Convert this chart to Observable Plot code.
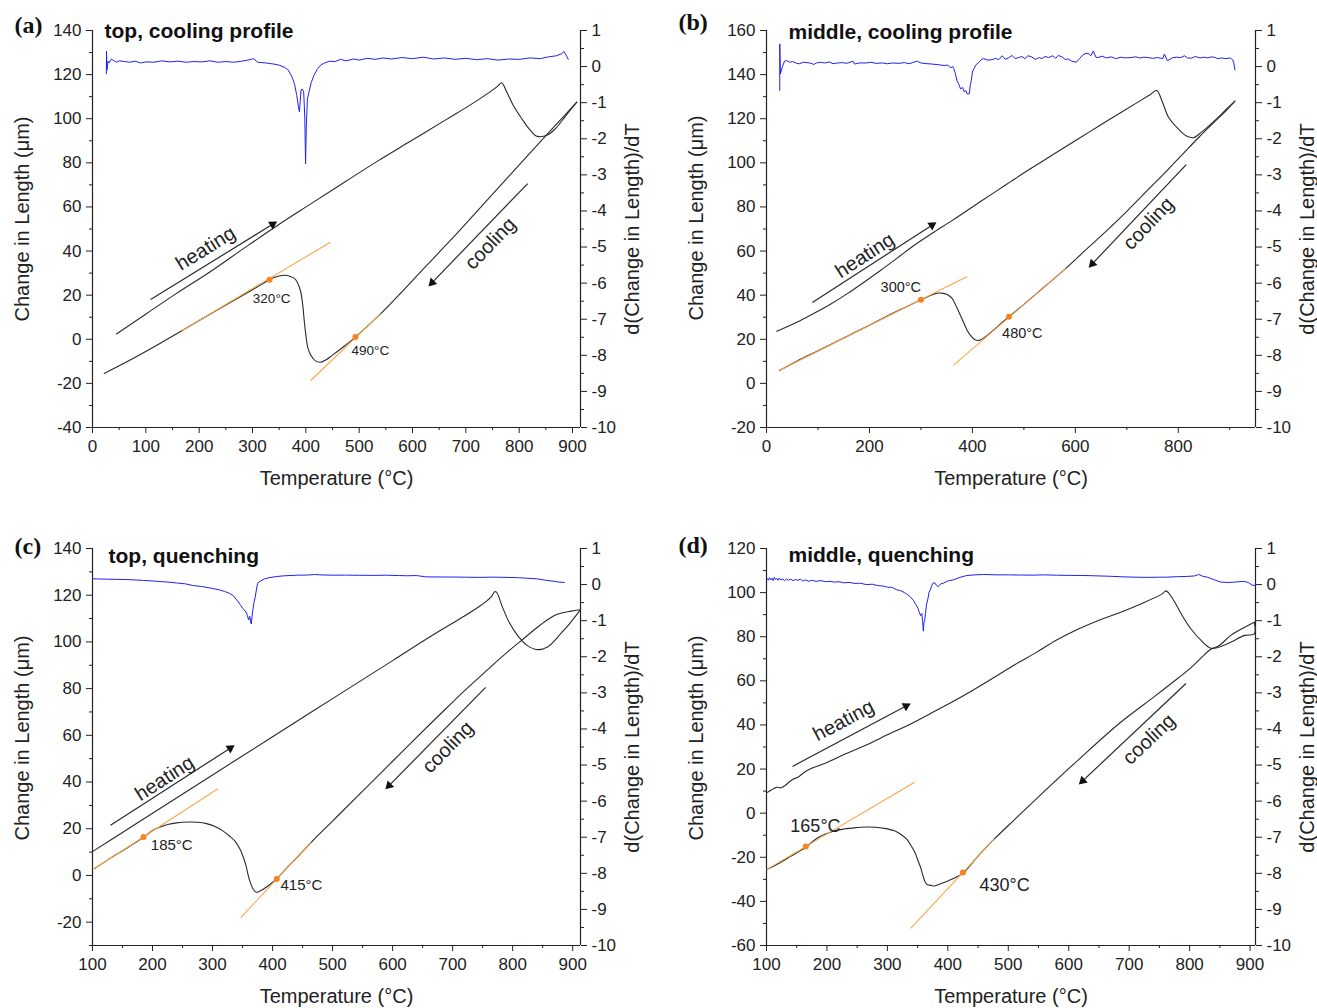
<!DOCTYPE html>
<html><head><meta charset="utf-8">
<script src="https://cdn.jsdelivr.net/npm/d3@7"></script>
<script src="https://cdn.jsdelivr.net/npm/@observablehq/plot@0.6"></script>
<style>
body{margin:0;background:#fff;}
#root{position:relative;width:1317px;height:1008px;background:#fff;overflow:hidden;}
#root > svg{position:absolute;}
</style></head><body><div id="root"></div>
<script>
// ---------- Panel (a) top, cooling profile ----------
const heatA = [[45,2.4],[101,11.6],[157,20.7],[220,30.5],[283,41.1],[346,51.5],[410,61.5],[473,71.3],[536,81],[599,90.2],[663,99.6],[710,106.5],[746,112.3],[760,114.8],[767,116.3],[777,112],[789,106],[805,100],[821,94.7],[834,92],[853,92.6],[868,95.5],[888,101.5],[908,107.5]];
const coolA = [[908,107.5],[870,97.5],[830,87],[780,73.7],[720,57.8],[671,44.8],[620,31.8],[580,21.5],[540,11.5],[515,5.8],[493,1.0],[470,-3.5],[450,-7.2],[438,-9.3],[427,-10.4],[418,-9.8],[410,-7.5],[404,-4],[400,2],[397,8.5],[394,16],[390,22],[384,25.9],[378,27.7],[371,28.5],[360,29],[350,28.7],[340,28],[332,27],[300,22.5],[250,15.5],[200,8.5],[168,4],[109,-4.3],[60,-10.8],[22,-15.5]];
const derivA = [[26,-0.2],[26.3,0.43],[27,-0.1],[29,0.15],[31,0.1],[35,0.2],[40,0.17],[45,0.12],[50,0.16],[60,0.14],[70,0.12],[80,0.15],[90,0.1],[100,0.13],[115,0.12],[130,0.16],[145,0.13],[160,0.15],[175,0.12],[190,0.14],[205,0.13],[220,0.16],[235,0.12],[250,0.14],[265,0.12],[280,0.15],[295,0.19],[302,0.22],[310,0.12],[325,0.1],[340,0.07],[350,0.04],[360,-0.02],[366,-0.08],[371,-0.2],[375,-0.32],[379,-0.5],[383,-0.8],[386,-1.1],[388,-1.25],[389.5,-0.95],[391,-0.65],[393,-0.62],[396,-0.7],[398,-1.4],[399.5,-2.69],[401,-1.6],[403,-0.9],[406,-0.7],[410,-0.45],[415,-0.25],[421,-0.08],[428,0.04],[435,0.1],[445,0.15],[455,0.14],[465,0.2],[475,0.16],[490,0.21],[500,0.18],[515,0.23],[530,0.2],[545,0.24],[560,0.21],[580,0.25],[600,0.22],[620,0.26],[640,0.21],[660,0.24],[680,0.2],[700,0.23],[720,0.19],[740,0.22],[760,0.18],[780,0.21],[800,0.2],[820,0.24],[840,0.22],[855,0.27],[870,0.3],[880,0.36],[884,0.42],[888,0.32],[892,0.2]];
const tangentsA = [[168,4,446,44],[409,-18.7,540,11.5]];
const onsetsA = [[332,27],[493,1]];
const onsetLabelsA = [[336,18.5,"320°C"],[521,-5.1,"490°C"]];
const arrowsA = [[109,18,346,53.4,"heating",212,41.2],[816,70.6,630,24,"cooling",746,43.4]];

// ---------- Panel (b) middle, cooling profile ----------
const heatB = [[20,23.6],[60,27.8],[91,31.6],[125,36],[157,40.7],[190,46],[222,51.3],[255,57],[287,62.6],[325,68.5],[361,73.9],[400,80],[442,86.5],[475,91.6],[508,96.6],[560,104.2],[606,110.9],[645,116.6],[687,122.6],[720,127.3],[745,130.9],[758,132.8],[768,128.3],[781,120.7],[800,115.4],[815,112.3],[829,111.4],[845,113.9],[870,119],[890,123.5],[910,128]];
const coolB = [[910,128],[890,123],[870,118.5],[840,111.6],[810,104.3],[781,97.2],[740,87.5],[700,78],[660,69],[620,60.5],[581,52],[540,43.8],[500,35.8],[471,30.2],[450,26],[430,22],[413,19.5],[405,19.8],[397,21.5],[390,24],[381,28.6],[369,34.7],[361,38.4],[352,40.2],[344,40.8],[335,41],[328,40.7],[315,39.5],[300,37.9],[265,34],[230,30],[190,25.2],[157,21.4],[100,14.8],[60,10.2],[25,5.8]];
const derivB = [[25.8,-0.66],[25.8,0.63],[27,-0.2],[31,0.0],[35,0.15],[39,0.17],[45,0.12],[51,0.14],[58,0.09],[64,0.08],[72,0.12],[84,0.1],[92,0.06],[97,0.1],[105,0.12],[113,0.1],[122,0.13],[129,0.08],[138,0.1],[148,0.11],[156,0.09],[168,0.15],[171,0.07],[180,0.1],[193,0.1],[202,0.12],[213,0.09],[225,0.1],[235,0.08],[245,0.1],[258,0.09],[268,0.11],[277,0.08],[286,0.12],[293,0.15],[300,0.1],[312,0.08],[322,0.07],[335,0.05],[345,0.03],[352,0.04],[358,-0.03],[362,0.0],[364,-0.06],[367,-0.2],[370,-0.39],[374,-0.5],[377,-0.62],[381,-0.58],[384,-0.7],[387,-0.66],[390,-0.76],[394,-0.75],[396,-0.5],[398,-0.38],[400,-0.15],[403,-0.06],[407,0.05],[412,0.11],[418,0.2],[422,0.22],[430,0.18],[438,0.19],[445,0.23],[451,0.19],[458,0.3],[464,0.2],[470,0.24],[477,0.31],[483,0.22],[490,0.25],[496,0.28],[502,0.22],[508,0.3],[515,0.27],[522,0.2],[530,0.25],[535,0.22],[541,0.28],[548,0.25],[556,0.3],[562,0.23],[567,0.31],[575,0.26],[580,0.2],[586,0.21],[593,0.15],[602,0.12],[608,0.22],[615,0.33],[620,0.36],[625,0.37],[630,0.3],[635,0.43],[640,0.26],[644,0.25],[652,0.29],[660,0.24],[670,0.27],[678,0.22],[689,0.26],[697,0.24],[708,0.25],[717,0.27],[725,0.24],[733,0.26],[741,0.25],[750,0.23],[760,0.25],[770,0.22],[773,0.35],[779,0.16],[788,0.24],[796,0.26],[805,0.25],[812,0.3],[818,0.24],[825,0.23],[833,0.28],[842,0.24],[850,0.26],[857,0.24],[865,0.27],[872,0.25],[876,0.22],[884,0.24],[892,0.22],[901,0.24],[906,0.18],[908,0.09],[910,-0.09]];
const tangentsB = [[25,5.8,390,48.5],[363,8.2,581,52]];
const onsetsB = [[300,37.9],[471,30.2]];
const onsetLabelsB = [[261,43.5,"300°C"],[497,22.6,"480°C"]];
const arrowsB = [[89,36.7,330,73,"heating",191,58],[815.5,99.2,626,52.5,"cooling",742,72.5]];

// ---------- Panel (c) top, quenching ----------
const heatC = [[100,10.2],[150,18.4],[200,26.6],[300,43],[400,59.4],[500,75.7],[600,92],[663,102.3],[719,111],[745,115.3],[758,117.8],[765,119.5],[770,121.5],[773,121.3],[783,114.9],[794,108.5],[808,102.8],[824,98.5],[841,96.7],[858,97.8],[880,103.5],[897,108.5],[913,113.8]];
const coolC = [[913,113.8],[897,113.2],[874,111.8],[858,109.5],[836,105.2],[816,100.9],[795,96.5],[774,91.8],[750,86.2],[719,78.9],[690,71.7],[660,64.2],[600,48.9],[540,33.5],[500,23.3],[464,14.1],[440,7.5],[420,2.2],[407,-1.4],[395,-4],[385,-5.8],[378,-6.8],[373,-7.2],[368,-6],[363,-3.1],[359,0.5],[356,4],[351,8],[346,11.1],[338,14.5],[328,16.9],[316,19.3],[304,21],[290,22.2],[275,22.8],[262,22.9],[250,22.8],[240,22.5],[227,21.9],[213,20.8],[200,19.3],[185,16.3],[160,12.2],[130,7.4],[103,2.9]];
const derivC = [[100,0.16],[110,0.155],[125,0.15],[140,0.145],[155,0.14],[170,0.13],[185,0.115],[200,0.1],[211,0.086],[225,0.07],[240,0.045],[255,0.02],[267,-0.025],[280,-0.05],[295,-0.09],[311,-0.145],[320,-0.19],[328,-0.24],[334,-0.3],[339,-0.4],[343,-0.48],[347,-0.58],[351,-0.67],[355.6,-0.76],[358,-0.85],[360,-0.98],[362,-0.88],[364.4,-1.09],[366.7,-0.75],[369,-0.5],[371,-0.35],[373,-0.15],[375,0.04],[380.6,0.11],[387,0.16],[394,0.19],[405,0.22],[419,0.243],[440,0.26],[460,0.265],[470,0.28],[478,0.27],[500,0.26],[520,0.262],[545,0.258],[570,0.255],[590,0.26],[610,0.25],[625,0.245],[640,0.25],[655,0.215],[680,0.21],[700,0.21],[720,0.205],[745,0.2],[767,0.206],[790,0.2],[810,0.19],[822,0.178],[840,0.16],[855,0.12],[867,0.095],[877,0.07],[886,0.058]];
const tangentsC = [[103,2.9,309,37.1],[347,-18.1,464,14.3]];
const onsetsC = [[185,16.5],[407,-1.5]];
const onsetLabelsC = [[232,12.9,"185°C"],[448,-4.2,"415°C"]];
const arrowsC = [[130,21.5,336.7,55.7,"heating",220,41.6],[755,80.5,588,36.9,"cooling",692,54.9]];

// ---------- Panel (d) middle, quenching ----------
const heatD = [[100,9.2],[108,10.5],[116.6,11.7],[124,11.5],[130.5,12.5],[137,14],[144.4,15.5],[152,16.3],[160,18],[172,20],[186,21.5],[200,23],[230,26.8],[269,31.4],[300,35.5],[338.5,40.4],[370,45],[407.8,50.5],[440,55.5],[477,61.6],[510,67.2],[546.5,72.9],[580,78.5],[616,83.5],[650,87.5],[685,91],[720,95],[754,99.3],[761,100.8],[772,97.2],[786,90.4],[802,83.6],[819,78.3],[835,74.8],[849,75.3],[868,77.5],[891,80.6],[907,81.3],[907,86.6]];
const coolD = [[907,86.6],[891,84.3],[868,80.6],[849,76],[835,74.3],[819,70.4],[802,65.9],[769,58.7],[740,52.5],[685,41],[616,24.2],[546,6.4],[510,-3],[477,-11.7],[450,-19.5],[425,-27.2],[412,-29.3],[401,-30.6],[388,-32],[378,-33],[373,-32.8],[366,-32.3],[362.7,-31.3],[358,-27.5],[355.8,-25.3],[350,-21],[345.4,-17.7],[338,-14.2],[331.5,-11.7],[320,-9.2],[310.7,-7.9],[295,-6.9],[280,-6.4],[269,-6.3],[255,-6.4],[241,-6.8],[228,-7.2],[214,-7.9],[200,-9.2],[186,-10.9],[175,-13.2],[165,-15.5],[140,-19.6],[120,-22.8],[100,-25.6]];
const derivD = [[101,0.17],[103,0.12],[105,0.19],[107,0.13],[109,0.18],[111,0.11],[113,0.2],[115,0.14],[117,0.17],[119,0.12],[121,0.18],[124,0.13],[127,0.15],[130,0.11],[133,0.16],[136,0.12],[140,0.15],[144,0.11],[148,0.14],[152,0.12],[156,0.15],[160,0.1],[165,0.13],[170,0.09],[175,0.12],[182,0.09],[190,0.11],[198,0.08],[205,0.09],[212,0.07],[220,0.08],[228,0.05],[238,0.06],[246,0.03],[255,0.04],[265,0.0],[275,0.01],[285,-0.03],[293,-0.04],[300,-0.07],[308,-0.08],[315,-0.14],[322,-0.17],[328,-0.22],[332,-0.26],[338,-0.34],[343,-0.44],[347,-0.55],[351,-0.67],[353,-0.78],[355,-0.86],[357,-0.8],[358.4,-1.04],[359.5,-1.29],[360.5,-1.05],[361.7,-1.0],[363,-0.8],[365,-0.53],[367,-0.4],[369,-0.21],[371,-0.15],[373.3,-0.03],[376,0.05],[379,0.04],[381,-0.02],[384,-0.06],[388,0.02],[392.7,0.04],[400,0.1],[409,0.13],[420,0.2],[431,0.25],[445,0.27],[459,0.28],[480,0.27],[500,0.27],[520,0.265],[541,0.262],[560,0.27],[580,0.26],[600,0.255],[625,0.252],[650,0.24],[670,0.23],[690,0.215],[707,0.206],[730,0.2],[750,0.205],[762,0.206],[780,0.22],[795,0.225],[808,0.24],[815,0.28],[822,0.23],[829,0.206],[840,0.14],[851,0.07],[862,0.058],[875,0.07],[889,0.09],[897,0.06],[903,-0.01],[909,-0.03]];
const tangentsD = [[100,-25.6,345,14],[338.5,-52.2,477,-11.7]];
const onsetsD = [[165,-15.1],[425,-26.9]];
const onsetLabelsD = [[181,-6,"165°C"],[494,-32.8,"430°C"]];
const arrowsD = [[143,21.2,338.5,49.7,"heating",227.5,42],[794,58.8,616.8,13,"cooling",732.7,33.5]];

// ---------- Shared texts ----------
const panelLetters = ["(a)","(b)","(c)","(d)"];
const panelTitles = ["top, cooling profile","middle, cooling profile","top, quenching","middle, quenching"];
const xTitle = "Temperature (°C)";
const yTitle = "Change in Length (μm)";
const y2Title = "d(Change in Length)/dT";
const derivTicks = [-10,-9,-8,-7,-6,-5,-4,-3,-2,-1,0,1];

const FONT = "'Liberation Sans', Arial, sans-serif";
const SERIF = "'Liberation Serif', 'Times New Roman', serif";
const BLACK = "#2a2a2a", BLUE = "#2020f0", ORANGE = "#f8a84a", ORANGEDOT = "#f7841e";

const panels = [
  {left:0, top:0, width:658, height:518, ml:92, mr:78, mt:30, mb:91, xd:[0,915], yd:[-40,140], xs:0, xstep:100,
   heat:heatA, cool:coolA, deriv:derivA, tangents:tangentsA, onsets:onsetsA, labels:onsetLabelsA, labelSize:13.5, arrows:arrowsA,
   letter:panelLetters[0], title:panelTitles[0], ldx:-78, ldy:-5, tdx:12, tdy:1, ydy:-10},
  {left:658, top:0, width:659, height:518, ml:108, mr:62, mt:30, mb:91, xd:[0,950], yd:[-20,160], xs:0, xstep:200,
   heat:heatB, cool:coolB, deriv:derivB, tangents:tangentsB, onsets:onsetsB, labels:onsetLabelsB, labelSize:14.5, arrows:arrowsB,
   letter:panelLetters[1], title:panelTitles[1], ldx:-88, ldy:-8, tdx:22, tdy:2, ydy:-11},
  {left:0, top:518, width:658, height:490, ml:92, mr:78, mt:30, mb:63, xd:[100,913], yd:[-30,140], xs:100, xstep:100,
   heat:heatC, cool:coolC, deriv:derivC, tangents:tangentsC, onsets:onsetsC, labels:onsetLabelsC, labelSize:15, arrows:arrowsC,
   letter:panelLetters[2], title:panelTitles[2], ldx:-78, ldy:-2, tdx:16, tdy:8, ydy:-9},
  {left:658, top:518, width:659, height:490, ml:108, mr:62, mt:30, mb:63, xd:[100,909], yd:[-60,120], xs:100, xstep:100,
   heat:heatD, cool:coolD, deriv:derivD, tangents:tangentsD, onsets:onsetsD, labels:onsetLabelsD, labelSize:18, arrows:arrowsD,
   letter:panelLetters[3], title:panelTitles[3], ldx:-88, ldy:-3, tdx:22, tdy:7, ydy:-9}
];

function makePanel(p) {
  const [x0, x1] = p.xd, [y0, y1] = p.yd;
  const toL = d => y0 + (d + 10) / 11 * (y1 - y0);
  const fromL = v => Math.round((v - y0) / (y1 - y0) * 11 - 10);
  const fw = p.width - p.ml - p.mr, fh = p.height - p.mt - p.mb;
  const kx = fw / (x1 - x0), ky = fh / (y1 - y0);
  const yStart = Math.ceil(y0 / 20) * 20;
  const leftMajor = d3.range(yStart, y1 + 0.01, 20);
  const leftMinor = d3.range(Math.ceil(y0 / 10) * 10, y1 + 0.01, 10).filter(v => v % 20 !== 0);
  const rightMajor = derivTicks.map(toL);
  const rightMinor = derivTicks.slice(0, -1).map(d => toL(d + 0.5));
  const xMajor = d3.range(p.xs, x1 + 0.01, p.xstep);
  const xMinor = d3.range(p.xs + p.xstep / 2, x1, p.xstep);

  const arrowInfo = p.arrows.map(([ax1, ay1, ax2, ay2, txt, tx, ty]) => {
    const sx = (ax2 - ax1) * kx, sy = -(ay2 - ay1) * ky;
    const len = Math.hypot(sx, sy), ux = sx / len, uy = sy / len;
    const rot = Math.atan2(ux, -uy) * 180 / Math.PI;
    let ang = Math.atan2(uy, ux) * 180 / Math.PI;
    if (ang > 90) ang -= 180; if (ang < -90) ang += 180;
    const back = 5.2;
    return {ax1, ay1, ax2, ay2, hx: ax2 - ux * back / kx, hy: ay2 + uy * back / ky, rot, txt, tx, ty, ang};
  });

  return Plot.plot({
    width: p.width, height: p.height,
    marginLeft: p.ml, marginRight: p.mr, marginTop: p.mt, marginBottom: p.mb,
    x: {domain: p.xd, label: null},
    y: {domain: p.yd, label: null},
    style: {fontFamily: FONT, fontSize: "17px", color: "#222", background: "white", overflow: "visible"},
    marks: [
      Plot.axisX({ticks: xMajor, tickSize: 6, tickPadding: 6, tickFormat: d => String(d), label: null, fontSize: 17}),
      Plot.axisX({ticks: xMinor, tickSize: 3, tickFormat: () => "", label: null}),
      Plot.axisY({anchor: "left", ticks: leftMajor, tickSize: 6, tickPadding: 5, tickFormat: d => String(d), label: null, fontSize: 17}),
      Plot.axisY({anchor: "left", ticks: leftMinor, tickSize: 3, tickFormat: () => "", label: null}),
      Plot.axisY({anchor: "right", ticks: rightMajor, tickSize: 6, tickPadding: 5, tickFormat: v => String(fromL(v)), label: null, fontSize: 17}),
      Plot.axisY({anchor: "right", ticks: rightMinor, tickSize: 3, tickFormat: () => "", label: null}),
      Plot.ruleX([x0, x1], {stroke: "#222", strokeWidth: 1.2}),
      Plot.ruleY([y0], {stroke: "#222", strokeWidth: 1.2}),
      Plot.line(p.deriv, {x: d => d[0], y: d => toL(d[1]), stroke: BLUE, strokeWidth: 1}),
      Plot.line(p.heat, {x: d => d[0], y: d => d[1], stroke: BLACK, strokeWidth: 1.1, curve: "catmull-rom"}),
      Plot.line(p.cool, {x: d => d[0], y: d => d[1], stroke: BLACK, strokeWidth: 1.1, curve: "catmull-rom"}),
      Plot.link(p.tangents, {x1: d => d[0], y1: d => d[1], x2: d => d[2], y2: d => d[3], stroke: ORANGE, strokeWidth: 1.1}),
      Plot.dot(p.onsets, {x: d => d[0], y: d => d[1], r: 3, fill: ORANGEDOT, stroke: "none"}),
      Plot.text(p.labels, {x: d => d[0], y: d => d[1], text: d => d[2], fontSize: p.labelSize, fill: "#222"}),
      Plot.link(arrowInfo, {x1: "ax1", y1: "ay1", x2: "hx", y2: "hy", stroke: BLACK, strokeWidth: 1.2}),
      Plot.dot(arrowInfo, {x: "hx", y: "hy", symbol: "triangle", r: 3.4, fill: "#111", stroke: "none", rotate: "rot"}),
      Plot.text(arrowInfo, {x: "tx", y: "ty", text: "txt", rotate: "ang", fontSize: 20, fill: "#222"}),
      Plot.text([p.title], {text: d => d, frameAnchor: "top-left", dx: p.tdx, dy: p.tdy, textAnchor: "start", lineAnchor: "middle", fontSize: 21, fontWeight: "bold", fill: "#111"}),
      Plot.text([p.letter], {text: d => d, frameAnchor: "top-left", dx: p.ldx, dy: p.ldy, textAnchor: "start", lineAnchor: "middle", fontSize: 24, fontWeight: "bold", fontFamily: SERIF, fill: "#111"}),
      Plot.text([yTitle], {text: d => d, frameAnchor: "left", dx: -70, dy: p.ydy, rotate: -90, textAnchor: "middle", lineAnchor: "middle", fontSize: 20, fill: "#222"}),
      Plot.text([y2Title], {text: d => d, frameAnchor: "right", dx: 52, rotate: -90, textAnchor: "middle", lineAnchor: "middle", fontSize: 20, fill: "#222"}),
      Plot.text([xTitle], {text: d => d, frameAnchor: "bottom", dy: 51, textAnchor: "middle", lineAnchor: "middle", fontSize: 20, fill: "#222"})
    ]
  });
}

const root = document.getElementById("root");
for (const p of panels) {
  const svg = makePanel(p);
  svg.style.left = p.left + "px";
  svg.style.top = p.top + "px";
  root.appendChild(svg);
}
</script></body></html>
